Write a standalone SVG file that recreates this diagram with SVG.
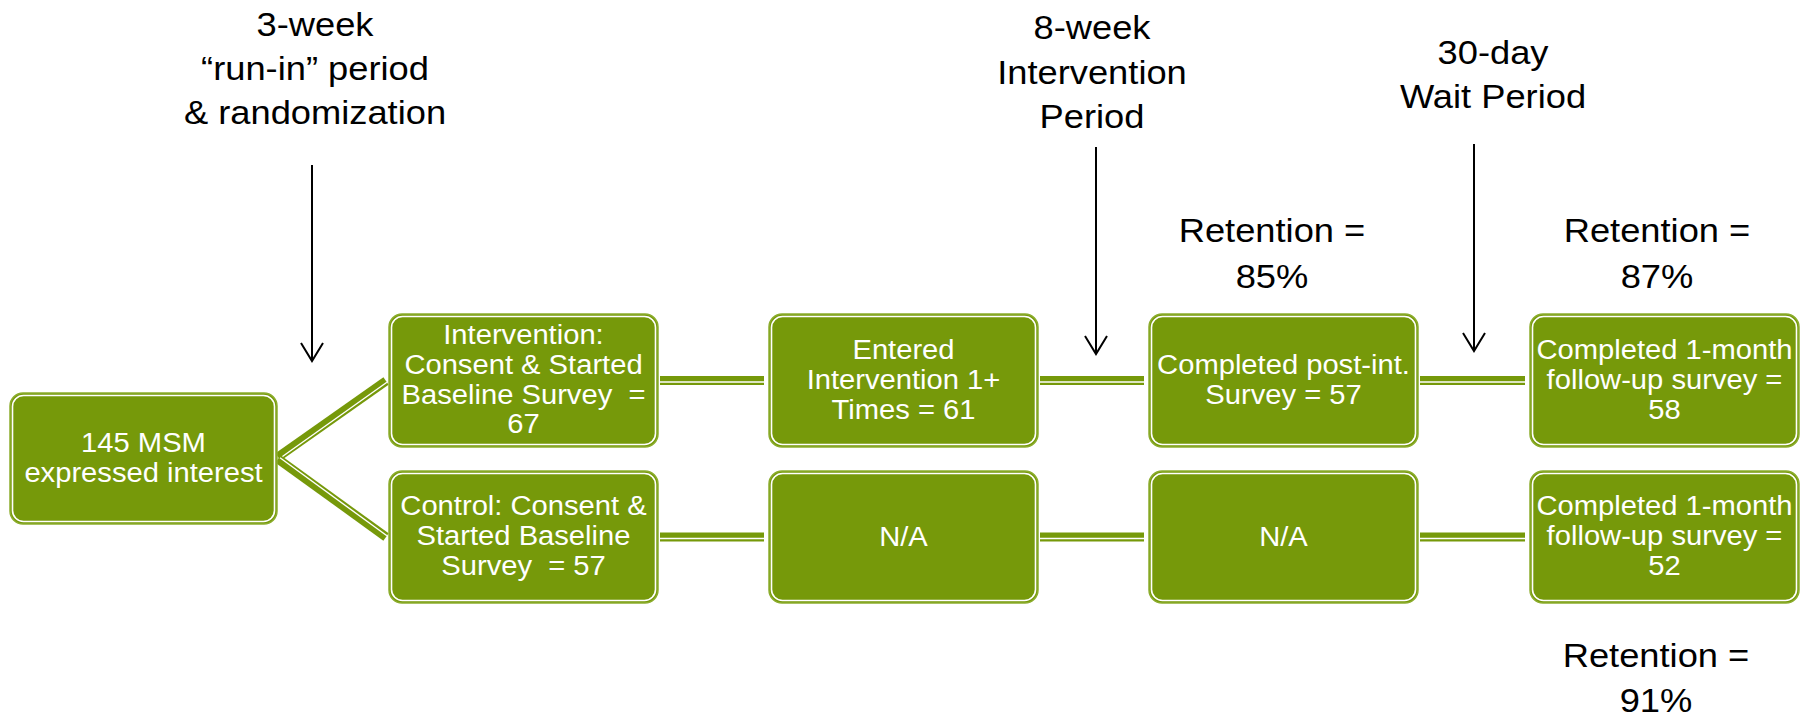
<svg xmlns="http://www.w3.org/2000/svg" width="1806" height="716" viewBox="0 0 1806 716">
<style>
.box{fill:#76990a;stroke:#8cad2e;stroke-width:1.5}
.inner{fill:none;stroke:#ffffff;stroke-width:1.6}
.bt{font-family:"Liberation Sans",Arial,sans-serif;font-size:27px;fill:#ffffff;text-anchor:middle;white-space:pre}
.lt{font-family:"Liberation Sans",Arial,sans-serif;font-size:33px;fill:#000000;text-anchor:middle}
.cg{stroke:#76990a;stroke-width:9;fill:none}
.cw{stroke:#ffffff;stroke-width:1.4;fill:none}
.ar{stroke:#000000;stroke-width:2;fill:none}
</style>
<rect width="1806" height="716" fill="#ffffff"/>

<g id="connectors">
  <line class="cg" x1="278" y1="457" x2="386" y2="381"/>
  <line class="cw" x1="280" y1="458.2" x2="386.9" y2="382.2"/>
  <line class="cg" x1="278" y1="459" x2="386" y2="537"/>
  <line class="cw" x1="280" y1="457.8" x2="386.9" y2="535.8"/>
  <line class="cg" x1="660" y1="380.5" x2="764" y2="380.5"/>
  <line class="cw" x1="660" y1="382" x2="764" y2="382"/>
  <line class="cg" x1="1040" y1="380.5" x2="1144" y2="380.5"/>
  <line class="cw" x1="1040" y1="382" x2="1144" y2="382"/>
  <line class="cg" x1="1420" y1="380.5" x2="1525" y2="380.5"/>
  <line class="cw" x1="1420" y1="382" x2="1525" y2="382"/>
  <line class="cg" x1="660" y1="537" x2="764" y2="537"/>
  <line class="cw" x1="660" y1="538.5" x2="764" y2="538.5"/>
  <line class="cg" x1="1040" y1="537" x2="1144" y2="537"/>
  <line class="cw" x1="1040" y1="538.5" x2="1144" y2="538.5"/>
  <line class="cg" x1="1420" y1="537" x2="1525" y2="537"/>
  <line class="cw" x1="1420" y1="538.5" x2="1525" y2="538.5"/>
</g>

<g id="arrows">
  <line class="ar" x1="312" y1="165" x2="312" y2="361"/>
  <polyline class="ar" points="301,343 312,361 323,343"/>
  <line class="ar" x1="1096" y1="147" x2="1096" y2="354"/>
  <polyline class="ar" points="1085,336 1096,354 1107,336"/>
  <line class="ar" x1="1474" y1="144" x2="1474" y2="351"/>
  <polyline class="ar" points="1463,333 1474,351 1485,333"/>
</g>

<g id="labels">
  <text class="lt" transform="matrix(1.1 0 0 1 315 36)">3-week</text>
  <text class="lt" transform="matrix(1.1 0 0 1 315 80)">“run-in” period</text>
  <text class="lt" transform="matrix(1.1 0 0 1 315 124)">&amp; randomization</text>
  <text class="lt" transform="matrix(1.1 0 0 1 1092 39)">8-week</text>
  <text class="lt" transform="matrix(1.1 0 0 1 1092 84)">Intervention</text>
  <text class="lt" transform="matrix(1.1 0 0 1 1092 128)">Period</text>
  <text class="lt" transform="matrix(1.1 0 0 1 1493 64)">30-day</text>
  <text class="lt" transform="matrix(1.1 0 0 1 1493 108)">Wait Period</text>
  <text class="lt" transform="matrix(1.1 0 0 1 1272 242)">Retention =</text>
  <text class="lt" transform="matrix(1.1 0 0 1 1272 288)">85%</text>
  <text class="lt" transform="matrix(1.1 0 0 1 1657 242)">Retention =</text>
  <text class="lt" transform="matrix(1.1 0 0 1 1657 288)">87%</text>
  <text class="lt" transform="matrix(1.1 0 0 1 1656 667)">Retention =</text>
  <text class="lt" transform="matrix(1.1 0 0 1 1656 712)">91%</text>
</g>

<g id="n0">
  <rect class="box" x="10" y="393" width="267" height="131" rx="13"/>
  <rect class="inner" x="12.5" y="395.5" width="262" height="126" rx="11"/>
  <text class="bt" transform="matrix(1.08 0 0 1 143.5 452)">145 MSM</text>
  <text class="bt" transform="matrix(1.08 0 0 1 143.5 482)">expressed interest</text>
</g>

<g id="n1">
  <rect class="box" x="389" y="314" width="269" height="133" rx="13"/>
  <rect class="inner" x="391.5" y="316.5" width="264" height="128" rx="11"/>
  <text class="bt" transform="matrix(1.08 0 0 1 523.5 344)">Intervention:</text>
  <text class="bt" transform="matrix(1.08 0 0 1 523.5 374)">Consent &amp; Started</text>
  <text class="bt" transform="matrix(1.08 0 0 1 523.5 404)">Baseline Survey  =</text>
  <text class="bt" transform="matrix(1.08 0 0 1 523.5 433)">67</text>
</g>

<g id="n2">
  <rect class="box" x="389" y="471" width="269" height="132" rx="13"/>
  <rect class="inner" x="391.5" y="473.5" width="264" height="127" rx="11"/>
  <text class="bt" transform="matrix(1.08 0 0 1 523.5 515)">Control: Consent &amp;</text>
  <text class="bt" transform="matrix(1.08 0 0 1 523.5 545)">Started Baseline</text>
  <text class="bt" transform="matrix(1.08 0 0 1 523.5 575)">Survey  = 57</text>
</g>

<g id="n3">
  <rect class="box" x="769" y="314" width="269" height="133" rx="13"/>
  <rect class="inner" x="771.5" y="316.5" width="264" height="128" rx="11"/>
  <text class="bt" transform="matrix(1.08 0 0 1 903.5 359)">Entered</text>
  <text class="bt" transform="matrix(1.08 0 0 1 903.5 389)">Intervention 1+</text>
  <text class="bt" transform="matrix(1.08 0 0 1 903.5 419)">Times = 61</text>
</g>

<g id="n4">
  <rect class="box" x="769" y="471" width="269" height="132" rx="13"/>
  <rect class="inner" x="771.5" y="473.5" width="264" height="127" rx="11"/>
  <text class="bt" transform="matrix(1.08 0 0 1 903.5 546)">N/A</text>
</g>

<g id="n5">
  <rect class="box" x="1149" y="314" width="269" height="133" rx="13"/>
  <rect class="inner" x="1151.5" y="316.5" width="264" height="128" rx="11"/>
  <text class="bt" transform="matrix(1.08 0 0 1 1283.5 374)">Completed post-int.</text>
  <text class="bt" transform="matrix(1.08 0 0 1 1283.5 404)">Survey = 57</text>
</g>

<g id="n6">
  <rect class="box" x="1149" y="471" width="269" height="132" rx="13"/>
  <rect class="inner" x="1151.5" y="473.5" width="264" height="127" rx="11"/>
  <text class="bt" transform="matrix(1.08 0 0 1 1283.5 546)">N/A</text>
</g>

<g id="n7">
  <rect class="box" x="1530" y="314" width="269" height="133" rx="13"/>
  <rect class="inner" x="1532.5" y="316.5" width="264" height="128" rx="11"/>
  <text class="bt" transform="matrix(1.08 0 0 1 1664.5 359)">Completed 1-month</text>
  <text class="bt" transform="matrix(1.08 0 0 1 1664.5 389)">follow-up survey =</text>
  <text class="bt" transform="matrix(1.08 0 0 1 1664.5 419)">58</text>
</g>

<g id="n8">
  <rect class="box" x="1530" y="471" width="269" height="132" rx="13"/>
  <rect class="inner" x="1532.5" y="473.5" width="264" height="127" rx="11"/>
  <text class="bt" transform="matrix(1.08 0 0 1 1664.5 515)">Completed 1-month</text>
  <text class="bt" transform="matrix(1.08 0 0 1 1664.5 545)">follow-up survey =</text>
  <text class="bt" transform="matrix(1.08 0 0 1 1664.5 575)">52</text>
</g>
</svg>
